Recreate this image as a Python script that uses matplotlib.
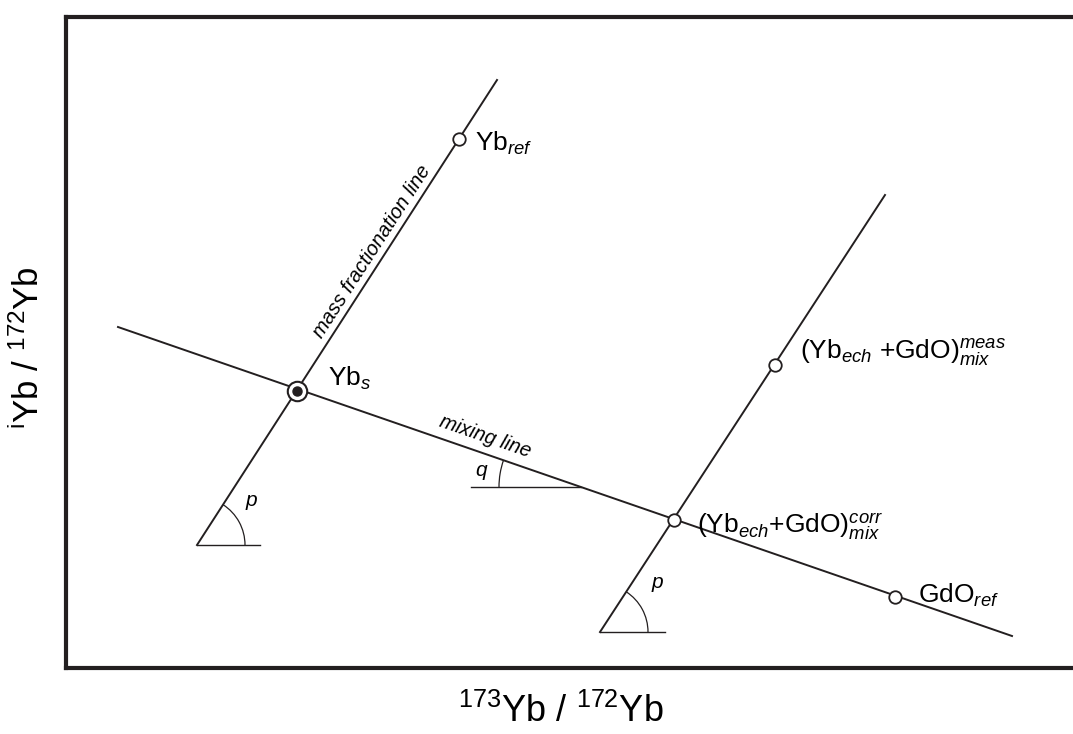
# Schema: mass fractionation line and mixing line for Yb / GdO correction
import numpy as np
import matplotlib.pyplot as plt
from matplotlib.patches import Arc

plt.rcParams['font.family'] = ['Liberation Sans', 'DejaVu Sans']
plt.rcParams['mathtext.fontset'] = 'custom'
plt.rcParams['mathtext.rm'] = 'Liberation Sans'
plt.rcParams['mathtext.it'] = 'Liberation Sans:italic'

# line end points (schematic units)
mass_line_x = [131, 431]
mass_line_y = [123, 588]
mix_line_x = [52, 946]
mix_line_y = [341, 32]
corr_line_x = [534, 819]
corr_line_y = [36, 473]

# points
yb_s = (231, 277)
yb_ref = (393, 529)
meas = (709, 303)
corr = (608, 148)
gdo_ref = (829, 71)
open_points_x = [yb_ref[0], meas[0], corr[0], gdo_ref[0]]
open_points_y = [yb_ref[1], meas[1], corr[1], gdo_ref[1]]

fig = plt.figure(figsize=(10.73, 7.34), dpi=100)
ax = fig.add_axes([66 / 1073, 66 / 734, 1007 / 1073, 651 / 734])
ax.set_xlim(0, 1007)
ax.set_ylim(0, 651)
ax.set_xticks([])
ax.set_yticks([])
for side in ['left', 'top', 'bottom']:
    ax.spines[side].set_linewidth(3)
    ax.spines[side].set_color('#231f20')
ax.spines['right'].set_visible(False)

lc = '#231f20'
ax.plot(mass_line_x, mass_line_y, color=lc, lw=1.4)
ax.plot(mix_line_x, mix_line_y, color=lc, lw=1.4)
ax.plot(corr_line_x, corr_line_y, color=lc, lw=1.4)

ax.plot(open_points_x, open_points_y, 'o', ms=9, mfc='white', mec=lc, mew=1.3, zorder=5)
ax.plot(*yb_s, 'o', ms=14, mfc='white', mec=lc, mew=1.5, zorder=5)
ax.plot(*yb_s, 'o', ms=6.5, mfc=lc, mec=lc, zorder=6)


def angle_of(xs, ys):
    return np.degrees(np.arctan2(ys[1] - ys[0], xs[1] - xs[0]))


p_angle = angle_of(mass_line_x, mass_line_y)
p2_angle = angle_of(corr_line_x, corr_line_y)
q_angle = angle_of(mix_line_x, mix_line_y)

# angle markers p
for (vx, vy), ang, hlen in [((131, 123), p_angle, 63), ((534, 36), p2_angle, 65)]:
    ax.plot([vx, vx + hlen], [vy, vy], color=lc, lw=1.0)
    ax.add_patch(Arc((vx, vy), 96, 96, theta1=0, theta2=ang, color=lc, lw=0.9))

# angle marker q
qv = (515, 181)
ax.plot([405, qv[0]], [qv[1], qv[1]], color=lc, lw=1.0)
ax.add_patch(Arc(qv, 164, 164, theta1=180 + q_angle, theta2=180, color=lc, lw=0.9))

ax.text(185, 168, 'p', fontsize=15, style='italic', ha='center', va='center')
ax.text(591, 85, 'p', fontsize=15, style='italic', ha='center', va='center')
ax.text(415, 197, 'q', fontsize=15, style='italic', ha='center', va='center')

ax.text(419, 231, 'mixing line', fontsize=14.5, style='italic', ha='center', va='center',
        rotation=q_angle, rotation_mode='anchor')
ax.text(311, 414, 'mass fractionation line', fontsize=14.5, style='italic', ha='center',
        va='baseline', rotation=p_angle, rotation_mode='anchor')

fs = 19
ax.text(409, 525, r'$\mathrm{Yb}_{ref}$', fontsize=fs, va='center')
ax.text(262, 290, r'$\mathrm{Yb}_{s}$', fontsize=fs, va='center')
ax.text(734, 316, r'$(\mathrm{Yb}_{ech}\ \mathrm{+GdO})^{meas}_{mix}$', fontsize=fs, va='center')
ax.text(631, 141, r'$(\mathrm{Yb}_{ech}\mathrm{+GdO})^{corr}_{mix}$', fontsize=fs, va='center')
ax.text(852, 73, r'$\mathrm{GdO}_{ref}$', fontsize=fs, va='center')

fig.text(561 / 1073, 1 - 712 / 734, r'$^{173}$Yb / $^{172}$Yb', fontsize=26,
         ha='center', va='center')
fig.text(28 / 1073, 1 - 348 / 734, r'$^{\mathrm{i}}$Yb / $^{172}$Yb', fontsize=25,
         ha='center', va='center', rotation=90)

plt.savefig('out.png', dpi=100)
